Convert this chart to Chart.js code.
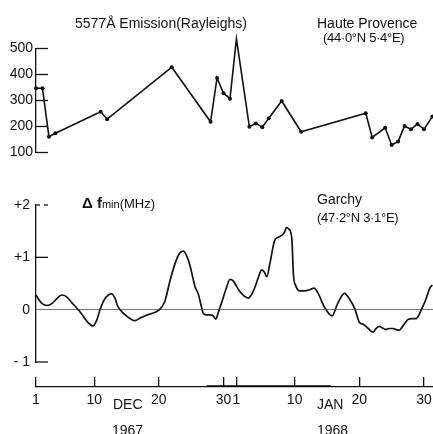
<!DOCTYPE html>
<html><head><meta charset="utf-8">
<script src="https://cdn.jsdelivr.net/npm/chart.js@4"></script>
<style>
html,body{margin:0;padding:0;background:#fff;}
body{width:433px;height:434px;position:relative;overflow:hidden;font-family:"Liberation Sans",Arial,sans-serif;color:#111;}
canvas{position:absolute;left:0;}
.t{position:absolute;white-space:nowrap;font-size:14px;line-height:1;}
</style></head><body>
<canvas id="cTop" width="433" height="175" style="top:0"></canvas>
<canvas id="cBot" width="433" height="200" style="top:180px"></canvas>
<canvas id="cAxis" width="433" height="74" style="top:360px"></canvas>

<div class="t" style="left:75px;top:16px;">5577Å Emission(Rayleighs)</div>
<div class="t" style="left:317px;top:16px;">Haute Provence</div>
<div class="t" style="left:323px;top:31px;font-size:13px;letter-spacing:-0.3px;">(44·0°N 5·4°E)</div>
<div class="t" style="left:82px;top:195px;"><span style="font-weight:bold;font-size:15px;">Δ f</span><span style="font-size:11px;">min</span><span style="font-size:13px;">(MHz)</span></div>
<div class="t" style="left:317px;top:192px;">Garchy</div>
<div class="t" style="left:317px;top:211px;font-size:13px;letter-spacing:-0.3px;">(47·2°N 3·1°E)</div>
<div class="t" style="left:113px;top:397px;">DEC</div>
<div class="t" style="left:112px;top:423px;">1967</div>
<div class="t" style="left:317px;top:397px;">JAN</div>
<div class="t" style="left:317px;top:423px;">1968</div>

<script>
// ---- data (day index: 0 = 1 Dec 1967) ----
const EM_DAYS   = [0,1,2,3,10,11,21,27,28,29,30,31,33,34,35,36,38,41,51,52,54,55,56,57,58,59,60,61.3];
const EM_VALUES = [347,347,161,174,257,228,428,218,387,328,307,537,199,212,197,232,298,180,251,158,195,129,142,202,189,210,189,238];
const EM_TICKS  = [100,200,300,400,500];

const DF_DAYS = [0,0.5,1.0,1.7,2.5,3.3,4.0,4.7,5.5,6.8,8.0,8.8,9.4,9.9,10.6,11.2,11.7,12.2,12.6,13.0,14.0,15.3,16.1,17.0,18.0,18.9,19.9,20.7,21.5,22.2,22.8,23.4,23.8,24.6,25.1,25.5,25.9,26.4,26.9,27.4,27.8,28.2,28.7,29.4,30.0,30.5,31.0,31.5,32.2,32.8,33.3,33.8,34.4,34.9,35.3,35.7,36.2,36.9,37.4,38.0,38.4,38.75,39.1,39.4,39.6,39.8,40.2,40.8,41.5,42.3,43.0,43.6,44.6,45.8,46.6,47.7,48.5,49.3,50.0,50.6,51.3,52.1,52.6,53.1,53.6,54.1,54.6,55.2,55.7,56.2,56.8,57.5,58.2,58.8,59.6,60.3,60.9,61.3];
const DF_VALUES = [0.28,0.18,0.11,0.08,0.12,0.22,0.28,0.25,0.14,-0.04,-0.24,-0.31,-0.2,0.0,0.2,0.28,0.30,0.22,0.08,0.0,-0.12,-0.21,-0.16,-0.11,-0.07,-0.02,0.15,0.54,0.88,1.08,1.12,1.0,0.85,0.44,0.3,0.1,-0.08,-0.1,-0.1,-0.12,-0.18,-0.05,0.13,0.4,0.58,0.55,0.45,0.35,0.26,0.22,0.28,0.41,0.62,0.76,0.72,0.63,0.9,1.32,1.38,1.42,1.47,1.57,1.54,1.48,1.3,0.69,0.45,0.36,0.36,0.38,0.41,0.32,0.05,-0.12,0.1,0.31,0.2,0.02,-0.24,-0.28,-0.35,-0.43,-0.36,-0.32,-0.35,-0.38,-0.36,-0.36,-0.38,-0.39,-0.3,-0.19,-0.17,-0.17,0.0,0.2,0.41,0.47];
const DF_TICKS = [-1,0,1,2];
const DF_TICK_LABELS = ['- 1','0','+1','+2'];

const DATE_TICKS = [0,9,19,29,31,40,50,60];
const DATE_LABELS = ['1','10','20','30','1','10','20','30'];
const AXIS_DOUBLE_SPAN = [26.4, 45.6];   // stretch of the date axis drawn twice in the original
const X_MAX = 61.4;

Chart.defaults.font.family = '"Liberation Sans", Arial, sans-serif';
Chart.defaults.color = '#111';
Chart.defaults.animation = false;

const INK = '#111';
const xHidden = {type:'linear', min:0, max:X_MAX, display:false};

function innerTicks(id, styleFor){
  return {
    id,
    afterDraw(chart){
      const y = chart.scales.y, ctx = chart.ctx, L = chart.chartArea.left;
      ctx.save();
      ctx.strokeStyle = INK; ctx.lineWidth = 1.3;
      y.ticks.forEach(t => {
        const st = styleFor(t.value);
        if (!st) return;
        const py = y.getPixelForValue(t.value);
        ctx.setLineDash(st.dash || []);
        ctx.beginPath(); ctx.moveTo(L, py); ctx.lineTo(L + 12, py); ctx.stroke();
      });
      ctx.restore();
    }
  };
}

// ---- top panel ----
new Chart(document.getElementById('cTop'), {
  type:'scatter',
  data:{datasets:[{
    data: EM_DAYS.map((d,i)=>({x:d, y:EM_VALUES[i]})),
    showLine:true, borderColor:INK, borderWidth:1.6, tension:0,
    pointRadius:2, pointBackgroundColor:INK, pointBorderWidth:0, clip:false
  }]},
  options:{
    responsive:false,
    layout:{autoPadding:false, padding:{left:0,right:0,top:48.5,bottom:22.5}},
    plugins:{legend:{display:false}, tooltip:{enabled:false}},
    scales:{
      x: xHidden,
      y:{min:100,max:500,
        afterFit(s){ s.width = 36; },
        afterBuildTicks(s){ s.ticks = EM_TICKS.map(v=>({value:v})); },
        ticks:{font:{size:14}, color:INK, padding:3},
        grid:{display:false, drawTicks:false},
        border:{display:true, color:INK, width:1.3}}
    }
  },
  plugins:[innerTicks('emTicks', v => ({}))]
});

// ---- bottom panel ----
new Chart(document.getElementById('cBot'), {
  type:'scatter',
  data:{datasets:[{
    data: DF_DAYS.map((d,i)=>({x:d, y:DF_VALUES[i]})),
    showLine:true, borderColor:INK, borderWidth:1.7, cubicInterpolationMode:'monotone',
    pointRadius:0, clip:false
  }]},
  options:{
    responsive:false,
    layout:{autoPadding:false, padding:{left:0,right:0,top:25,bottom:18}},
    plugins:{legend:{display:false}, tooltip:{enabled:false}},
    scales:{
      x: xHidden,
      y:{min:-1,max:2,
        afterFit(s){ s.width = 36; },
        afterBuildTicks(s){ s.ticks = DF_TICKS.map(v=>({value:v})); },
        ticks:{font:{size:14}, color:INK, padding:6,
          callback:(v)=>DF_TICK_LABELS[DF_TICKS.indexOf(v)]},
        grid:{display:true, drawTicks:false, lineWidth:1,
          color:(c)=> (c.tick && c.tick.value===0) ? '#777' : 'rgba(0,0,0,0)'},
        border:{display:true, color:INK, width:1.3}}
    }
  },
  plugins:[innerTicks('dfTicks', v => v===0 ? null : (v===2 ? {dash:[4,4]} : {}))]
});

// ---- date axis ----
new Chart(document.getElementById('cAxis'), {
  type:'scatter',
  data:{datasets:[]},
  options:{
    responsive:false,
    layout:{autoPadding:false, padding:{left:36,right:0,top:17,bottom:0}},
    plugins:{legend:{display:false}, tooltip:{enabled:false}},
    scales:{
      x:{type:'linear', min:0, max:X_MAX, position:'bottom',
        afterFit(s){ s.height = 47; s.paddingLeft = 0; s.paddingRight = 0; },
        afterBuildTicks(s){ s.ticks = DATE_TICKS.map(v=>({value:v})); },
        ticks:{font:{size:14}, color:INK, padding:5, autoSkip:false, maxRotation:0, minRotation:0,
          callback:(v)=>DATE_LABELS[DATE_TICKS.indexOf(v)]},
        grid:{display:true, drawOnChartArea:true, drawTicks:false, color:INK, lineWidth:1.3},
        border:{display:true, color:INK, width:1.3}},
      y:{display:false, min:0, max:1}
    }
  },
  plugins:[{
    id:'doubleAxis',
    afterDraw(chart){
      const x = chart.scales.x, ctx = chart.ctx, yb = chart.chartArea.bottom - 1.3;
      ctx.save(); ctx.strokeStyle = INK; ctx.lineWidth = 1;
      ctx.beginPath();
      ctx.moveTo(x.getPixelForValue(AXIS_DOUBLE_SPAN[0]), yb);
      ctx.lineTo(x.getPixelForValue(AXIS_DOUBLE_SPAN[1]), yb);
      ctx.stroke(); ctx.restore();
    }
  }]
});
</script>
</body></html>
